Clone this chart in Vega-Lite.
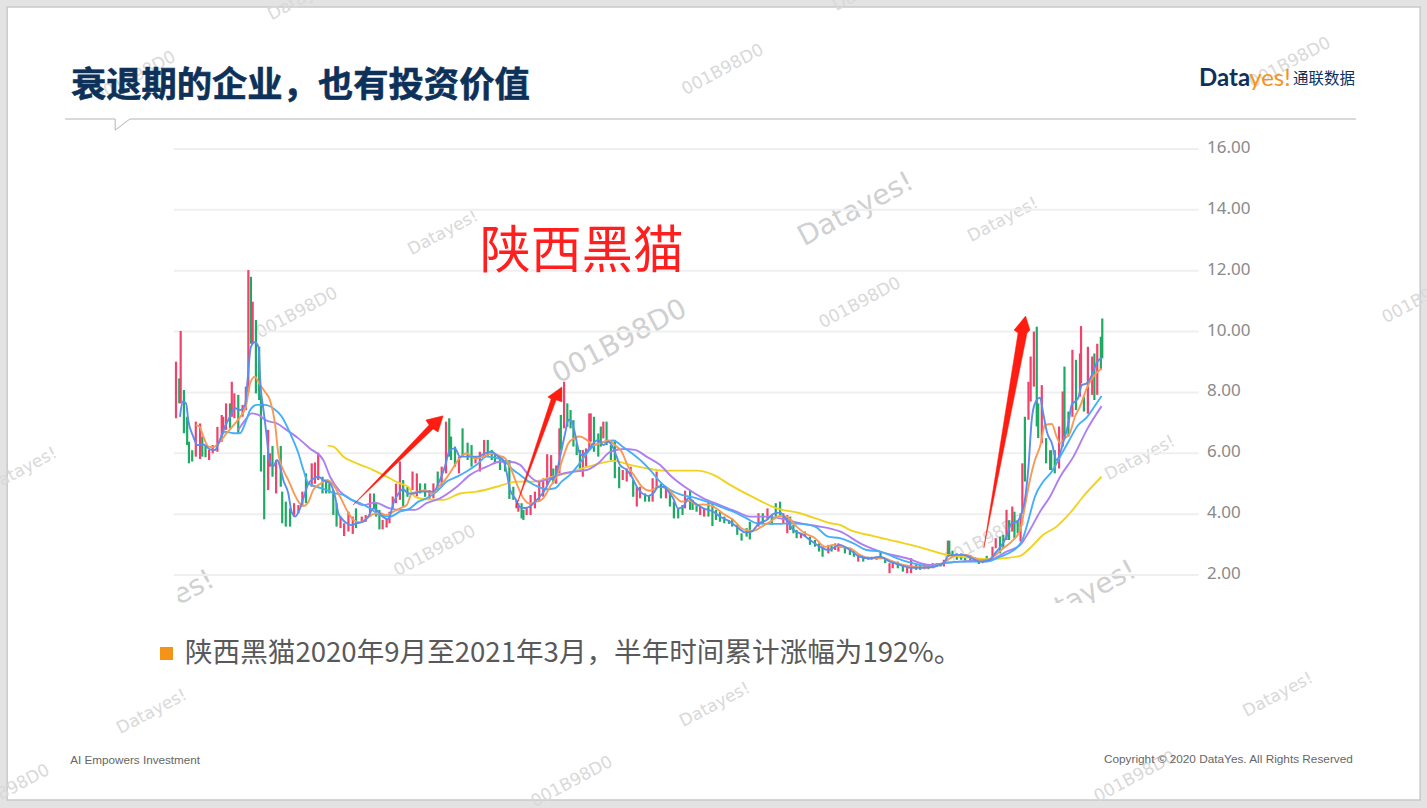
{"$schema":"https://vega.github.io/schema/vega-lite/v6.json","width":1427,"height":808,"autosize":"none","padding":0,"background":"#e3e3e3","config":{"view":{"stroke":null}},
"resolve":{"scale":{"color":"independent"}},
"datasets":{
"levels":[{"price":2},{"price":4},{"price":6},{"price":8},{"price":10},{"price":12},{"price":14},{"price":16}],
"candles":[
{"i":0,"lo":7.15,"hi":9.01,"dir":"up"},{"i":0.9,"lo":7.64,"hi":8.46,"dir":"down"},{"i":1.3,"lo":7.64,"hi":10.02,"dir":"up"},{"i":2.2,"lo":6.66,"hi":8.08,"dir":"down"},{"i":3.1,"lo":6.27,"hi":7.2,"dir":"down"},{"i":3.6,"lo":5.67,"hi":6.38,"dir":"down"},{"i":4.5,"lo":5.73,"hi":6.1,"dir":"down"},{"i":5.5,"lo":5.89,"hi":7.04,"dir":"up"},{"i":6.7,"lo":5.81,"hi":6.98,"dir":"up"},{"i":7.3,"lo":5.89,"hi":6.55,"dir":"down"},{"i":8.2,"lo":5.87,"hi":6.27,"dir":"down"},{"i":9.2,"lo":5.78,"hi":6.11,"dir":"up"},{"i":10.2,"lo":6.0,"hi":6.27,"dir":"up"},{"i":11.5,"lo":6.05,"hi":6.87,"dir":"up"},{"i":12.7,"lo":6.38,"hi":7.26,"dir":"up"},{"i":13.1,"lo":6.66,"hi":7.2,"dir":"up"},{"i":13.9,"lo":6.77,"hi":7.64,"dir":"up"},{"i":15,"lo":6.82,"hi":7.64,"dir":"down"},{"i":15.5,"lo":7.2,"hi":8.35,"dir":"up"},{"i":16.2,"lo":7.15,"hi":7.97,"dir":"up"},{"i":17.3,"lo":6.66,"hi":7.92,"dir":"down"},{"i":18.5,"lo":7.2,"hi":7.59,"dir":"up"},{"i":19.4,"lo":7.42,"hi":8.19,"dir":"up"},{"i":20.1,"lo":8.0,"hi":12.02,"dir":"up"},{"i":20.8,"lo":9.6,"hi":11.8,"dir":"down"},{"i":21.3,"lo":9.6,"hi":10.98,"dir":"up"},{"i":22.2,"lo":7.97,"hi":10.38,"dir":"down"},{"i":23.1,"lo":7.75,"hi":9.5,"dir":"down"},{"i":23.6,"lo":5.4,"hi":7.97,"dir":"down"},{"i":24.5,"lo":3.83,"hi":5.94,"dir":"down"},{"i":25.6,"lo":4.79,"hi":6.77,"dir":"up"},{"i":26.1,"lo":5.56,"hi":6.0,"dir":"up"},{"i":26.8,"lo":5.23,"hi":6.24,"dir":"down"},{"i":27.8,"lo":4.68,"hi":5.78,"dir":"up"},{"i":29.1,"lo":4.9,"hi":6.24,"dir":"down"},{"i":29.5,"lo":3.7,"hi":4.74,"dir":"down"},{"i":30.5,"lo":3.59,"hi":4.41,"dir":"down"},{"i":31.7,"lo":3.59,"hi":4.19,"dir":"down"},{"i":32.8,"lo":3.92,"hi":4.36,"dir":"up"},{"i":34,"lo":4.03,"hi":4.3,"dir":"up"},{"i":35.1,"lo":4.25,"hi":4.74,"dir":"up"},{"i":36.1,"lo":4.36,"hi":5.34,"dir":"down"},{"i":37.7,"lo":4.9,"hi":5.67,"dir":"up"},{"i":38.6,"lo":5.0,"hi":5.7,"dir":"up"},{"i":39.5,"lo":5.12,"hi":6.02,"dir":"up"},{"i":40.7,"lo":4.68,"hi":5.23,"dir":"down"},{"i":41.7,"lo":4.68,"hi":5.12,"dir":"down"},{"i":42.6,"lo":4.68,"hi":5.01,"dir":"down"},{"i":43.7,"lo":3.97,"hi":4.79,"dir":"down"},{"i":44.6,"lo":3.59,"hi":4.36,"dir":"down"},{"i":45.7,"lo":3.54,"hi":3.92,"dir":"up"},{"i":46.7,"lo":3.28,"hi":3.7,"dir":"up"},{"i":47.9,"lo":3.43,"hi":4.08,"dir":"up"},{"i":49.1,"lo":3.35,"hi":3.92,"dir":"up"},{"i":50,"lo":3.54,"hi":4.19,"dir":"down"},{"i":51.6,"lo":3.75,"hi":3.92,"dir":"up"},{"i":52.7,"lo":3.75,"hi":3.97,"dir":"up"},{"i":53.9,"lo":3.92,"hi":4.68,"dir":"up"},{"i":55,"lo":4.19,"hi":4.68,"dir":"down"},{"i":55.6,"lo":3.92,"hi":4.36,"dir":"down"},{"i":56.5,"lo":3.5,"hi":4.14,"dir":"down"},{"i":57.4,"lo":3.5,"hi":3.81,"dir":"up"},{"i":58.5,"lo":3.56,"hi":3.86,"dir":"up"},{"i":59.3,"lo":3.7,"hi":4.08,"dir":"up"},{"i":60.2,"lo":4.19,"hi":4.58,"dir":"up"},{"i":61.1,"lo":4.36,"hi":5.0,"dir":"up"},{"i":62.2,"lo":4.47,"hi":5.73,"dir":"up"},{"i":63.1,"lo":4.25,"hi":5.12,"dir":"down"},{"i":64.3,"lo":4.57,"hi":4.9,"dir":"down"},{"i":65.7,"lo":4.79,"hi":5.4,"dir":"up"},{"i":66.9,"lo":4.58,"hi":5.34,"dir":"up"},{"i":67.8,"lo":4.68,"hi":5.01,"dir":"down"},{"i":69.2,"lo":4.57,"hi":5.01,"dir":"down"},{"i":70.4,"lo":4.47,"hi":4.79,"dir":"up"},{"i":71.5,"lo":4.52,"hi":5.01,"dir":"up"},{"i":72.7,"lo":4.79,"hi":5.4,"dir":"down"},{"i":73.8,"lo":4.9,"hi":5.56,"dir":"up"},{"i":75,"lo":5.34,"hi":7.04,"dir":"up"},{"i":75.9,"lo":5.89,"hi":7.15,"dir":"down"},{"i":76.4,"lo":5.78,"hi":6.55,"dir":"down"},{"i":77.5,"lo":5.56,"hi":6.22,"dir":"down"},{"i":78.6,"lo":5.34,"hi":5.89,"dir":"up"},{"i":79.6,"lo":5.89,"hi":6.82,"dir":"down"},{"i":81,"lo":5.78,"hi":6.35,"dir":"down"},{"i":82.1,"lo":5.56,"hi":6.27,"dir":"down"},{"i":83.2,"lo":5.67,"hi":5.89,"dir":"up"},{"i":84.4,"lo":5.4,"hi":6.05,"dir":"up"},{"i":85.6,"lo":5.89,"hi":6.44,"dir":"up"},{"i":86.6,"lo":5.89,"hi":6.44,"dir":"down"},{"i":87.7,"lo":5.78,"hi":6.11,"dir":"down"},{"i":88.6,"lo":5.67,"hi":6.0,"dir":"down"},{"i":90,"lo":5.45,"hi":5.89,"dir":"down"},{"i":91.4,"lo":5.4,"hi":5.78,"dir":"down"},{"i":92.6,"lo":4.5,"hi":5.78,"dir":"down"},
{"i":93.7,"lo":4.47,"hi":4.9,"dir":"down"},{"i":94.6,"lo":4.19,"hi":4.47,"dir":"up"},{"i":95.1,"lo":4.08,"hi":4.36,"dir":"up"},{"i":96,"lo":3.86,"hi":4.36,"dir":"down"},{"i":96.5,"lo":3.81,"hi":4.14,"dir":"down"},{"i":97.4,"lo":3.97,"hi":4.2,"dir":"up"},{"i":98.5,"lo":3.97,"hi":4.63,"dir":"up"},{"i":99.7,"lo":4.19,"hi":4.74,"dir":"up"},{"i":100.9,"lo":4.41,"hi":5.07,"dir":"up"},{"i":102,"lo":4.57,"hi":5.18,"dir":"up"},{"i":103.1,"lo":4.96,"hi":5.97,"dir":"up"},{"i":104.2,"lo":5.12,"hi":5.94,"dir":"up"},{"i":104.8,"lo":5.0,"hi":5.5,"dir":"down"},{"i":105.6,"lo":5.0,"hi":5.6,"dir":"up"},{"i":106.5,"lo":5.34,"hi":6.82,"dir":"up"},{"i":106.9,"lo":6.11,"hi":7.26,"dir":"down"},{"i":107.8,"lo":6.82,"hi":8.35,"dir":"up"},{"i":108.7,"lo":6.87,"hi":7.64,"dir":"down"},{"i":109.6,"lo":6.82,"hi":7.42,"dir":"down"},{"i":110.4,"lo":6.22,"hi":7.09,"dir":"down"},{"i":111.3,"lo":5.94,"hi":6.33,"dir":"down"},{"i":112.2,"lo":5.4,"hi":6.11,"dir":"down"},{"i":113,"lo":5.23,"hi":6.11,"dir":"up"},{"i":113.9,"lo":5.56,"hi":6.16,"dir":"up"},{"i":114.8,"lo":6.11,"hi":7.31,"dir":"up"},{"i":115.2,"lo":6.38,"hi":7.31,"dir":"up"},{"i":116.1,"lo":6.05,"hi":7.2,"dir":"down"},{"i":117.3,"lo":5.89,"hi":6.65,"dir":"down"},{"i":118,"lo":6.22,"hi":6.88,"dir":"down"},{"i":118.7,"lo":6.49,"hi":7.04,"dir":"up"},{"i":119.6,"lo":6.27,"hi":7.04,"dir":"down"},{"i":120.8,"lo":5.78,"hi":6.27,"dir":"down"},{"i":121.9,"lo":5.18,"hi":6.44,"dir":"down"},{"i":123.1,"lo":4.85,"hi":5.56,"dir":"down"},{"i":124.1,"lo":5.12,"hi":5.45,"dir":"up"},{"i":125.2,"lo":5.07,"hi":5.5,"dir":"up"},{"i":126.3,"lo":5.23,"hi":5.56,"dir":"up"},{"i":127,"lo":4.57,"hi":5.12,"dir":"down"},{"i":128,"lo":4.25,"hi":4.9,"dir":"up"},{"i":128.9,"lo":4.52,"hi":4.9,"dir":"up"},{"i":130.3,"lo":4.41,"hi":4.68,"dir":"down"},{"i":131.4,"lo":4.41,"hi":4.63,"dir":"down"},{"i":132.4,"lo":4.41,"hi":5.18,"dir":"up"},{"i":133.5,"lo":4.85,"hi":5.4,"dir":"up"},{"i":134.7,"lo":4.52,"hi":5.0,"dir":"down"},{"i":136.1,"lo":4.52,"hi":4.9,"dir":"up"},{"i":137.2,"lo":4.25,"hi":4.8,"dir":"down"},{"i":138.3,"lo":3.86,"hi":4.41,"dir":"down"},{"i":139.5,"lo":3.86,"hi":4.19,"dir":"down"},{"i":140.7,"lo":3.97,"hi":4.3,"dir":"down"},{"i":141.4,"lo":4.19,"hi":4.77,"dir":"up"},{"i":142.8,"lo":4.14,"hi":4.8,"dir":"down"},{"i":143.5,"lo":4.14,"hi":4.47,"dir":"down"},{"i":144.6,"lo":4.08,"hi":4.3,"dir":"down"},{"i":145.6,"lo":3.97,"hi":4.25,"dir":"up"},{"i":146.7,"lo":3.92,"hi":4.19,"dir":"up"},{"i":147.9,"lo":3.92,"hi":4.41,"dir":"down"},{"i":149,"lo":3.61,"hi":4.36,"dir":"down"},{"i":150,"lo":3.81,"hi":4.14,"dir":"down"},{"i":151.1,"lo":3.75,"hi":4.08,"dir":"down"},{"i":152.3,"lo":3.7,"hi":3.92,"dir":"down"},{"i":153.6,"lo":3.68,"hi":3.81,"dir":"down"},{"i":154.5,"lo":3.59,"hi":3.86,"dir":"down"},{"i":155.9,"lo":3.32,"hi":3.65,"dir":"down"},{"i":157.1,"lo":3.13,"hi":3.37,"dir":"down"},{"i":158.5,"lo":3.26,"hi":3.54,"dir":"down"},{"i":159.4,"lo":3.17,"hi":3.75,"dir":"down"},{"i":161.8,"lo":3.59,"hi":4.03,"dir":"up"},{"i":163,"lo":3.7,"hi":4.03,"dir":"down"},{"i":164.3,"lo":3.81,"hi":4.19,"dir":"up"},{"i":165.5,"lo":3.65,"hi":3.97,"dir":"down"},{"i":166.6,"lo":3.92,"hi":4.36,"dir":"down"},{"i":167.8,"lo":3.97,"hi":4.41,"dir":"down"},{"i":168.7,"lo":3.7,"hi":4.03,"dir":"up"},{"i":169.8,"lo":3.37,"hi":3.97,"dir":"up"},{"i":170.6,"lo":3.48,"hi":3.92,"dir":"down"},{"i":171.5,"lo":3.37,"hi":3.65,"dir":"down"},{"i":172.4,"lo":3.21,"hi":3.48,"dir":"down"},{"i":173.6,"lo":3.21,"hi":3.37,"dir":"up"},{"i":174.7,"lo":3.26,"hi":3.43,"dir":"up"},{"i":176.1,"lo":2.99,"hi":3.26,"dir":"down"},{"i":177.5,"lo":2.93,"hi":3.15,"dir":"down"},{"i":178.6,"lo":2.77,"hi":3.04,"dir":"down"},{"i":179.6,"lo":2.6,"hi":2.93,"dir":"down"},{"i":181.2,"lo":2.71,"hi":2.99,"dir":"up"},{"i":182.1,"lo":2.77,"hi":2.99,"dir":"down"},{"i":183.1,"lo":2.82,"hi":3.04,"dir":"up"},{"i":184,"lo":2.77,"hi":3.04,"dir":"up"},
{"i":185.8,"lo":2.71,"hi":2.93,"dir":"down"},{"i":187.2,"lo":2.66,"hi":2.88,"dir":"down"},{"i":188.3,"lo":2.6,"hi":2.82,"dir":"down"},{"i":189.5,"lo":2.44,"hi":2.66,"dir":"up"},{"i":190.9,"lo":2.44,"hi":2.6,"dir":"down"},{"i":192.3,"lo":2.5,"hi":2.6,"dir":"down"},{"i":193.2,"lo":2.5,"hi":2.6,"dir":"up"},{"i":194.6,"lo":2.5,"hi":2.6,"dir":"up"},{"i":195.7,"lo":2.55,"hi":2.77,"dir":"down"},{"i":197,"lo":2.39,"hi":2.55,"dir":"down"},{"i":198.2,"lo":2.06,"hi":2.39,"dir":"up"},{"i":199.1,"lo":2.22,"hi":2.44,"dir":"up"},{"i":200.5,"lo":2.22,"hi":2.44,"dir":"down"},{"i":201.9,"lo":2.11,"hi":2.33,"dir":"down"},{"i":203.1,"lo":2.06,"hi":2.28,"dir":"up"},{"i":204.2,"lo":2.06,"hi":2.55,"dir":"up"},{"i":205.6,"lo":2.17,"hi":2.33,"dir":"down"},{"i":206.7,"lo":2.17,"hi":2.33,"dir":"down"},{"i":207.9,"lo":2.19,"hi":2.33,"dir":"up"},{"i":209,"lo":2.19,"hi":2.28,"dir":"down"},{"i":210.2,"lo":2.22,"hi":2.39,"dir":"up"},{"i":211.3,"lo":2.28,"hi":2.39,"dir":"up"},{"i":212.4,"lo":2.28,"hi":2.39,"dir":"down"},{"i":213.3,"lo":2.28,"hi":2.5,"dir":"up"},{"i":214.4,"lo":2.6,"hi":3.13,"dir":"up"},{"i":214.8,"lo":2.66,"hi":3.13,"dir":"down"},{"i":215.7,"lo":2.6,"hi":2.8,"dir":"down"},{"i":216.9,"lo":2.5,"hi":2.71,"dir":"down"},{"i":218.1,"lo":2.5,"hi":2.71,"dir":"down"},{"i":219.2,"lo":2.47,"hi":2.69,"dir":"down"},{"i":220.6,"lo":2.44,"hi":2.66,"dir":"up"},{"i":221.7,"lo":2.44,"hi":2.58,"dir":"down"},{"i":223,"lo":2.36,"hi":2.52,"dir":"down"},{"i":224.1,"lo":2.39,"hi":2.55,"dir":"up"},{"i":225.2,"lo":2.44,"hi":2.63,"dir":"down"},{"i":226.8,"lo":2.6,"hi":2.93,"dir":"up"},{"i":227.7,"lo":2.88,"hi":3.21,"dir":"up"},{"i":228.9,"lo":2.71,"hi":3.26,"dir":"down"},{"i":229.8,"lo":2.88,"hi":3.32,"dir":"down"},{"i":230.7,"lo":3.15,"hi":4.14,"dir":"up"},{"i":231.4,"lo":3.15,"hi":3.8,"dir":"down"},{"i":232.3,"lo":3.43,"hi":4.25,"dir":"up"},{"i":232.9,"lo":3.21,"hi":4.08,"dir":"down"},{"i":233.8,"lo":3.37,"hi":3.8,"dir":"down"},{"i":234.6,"lo":3.1,"hi":4.03,"dir":"up"},{"i":235.1,"lo":4.03,"hi":5.67,"dir":"up"},{"i":235.8,"lo":5.07,"hi":7.2,"dir":"down"},{"i":236.8,"lo":7.1,"hi":8.35,"dir":"up"},{"i":237.4,"lo":7.7,"hi":9.18,"dir":"up"},{"i":238.3,"lo":8.19,"hi":10.0,"dir":"up"},{"i":239.1,"lo":6.88,"hi":10.16,"dir":"down"},{"i":239.5,"lo":6.5,"hi":7.64,"dir":"down"},{"i":240.5,"lo":6.33,"hi":8.24,"dir":"up"},{"i":241.7,"lo":5.67,"hi":6.5,"dir":"down"},{"i":242.8,"lo":5.45,"hi":6.1,"dir":"up"},{"i":243.1,"lo":5.45,"hi":6.1,"dir":"down"},{"i":244.1,"lo":5.34,"hi":6.1,"dir":"down"},{"i":245.3,"lo":5.5,"hi":6.88,"dir":"up"},{"i":246.3,"lo":6.22,"hi":8.03,"dir":"up"},{"i":246.8,"lo":6.55,"hi":8.85,"dir":"down"},{"i":247.9,"lo":6.55,"hi":7.37,"dir":"down"},{"i":249,"lo":7.2,"hi":9.4,"dir":"up"},{"i":250,"lo":7.42,"hi":9.07,"dir":"down"},{"i":251.1,"lo":7.86,"hi":9.28,"dir":"up"},{"i":251.4,"lo":8.3,"hi":10.18,"dir":"up"},{"i":252.2,"lo":7.37,"hi":7.86,"dir":"down"},{"i":253.3,"lo":7.3,"hi":9.5,"dir":"up"},{"i":254.5,"lo":7.92,"hi":9.18,"dir":"up"},{"i":255.1,"lo":7.75,"hi":9.28,"dir":"down"},{"i":255.9,"lo":7.92,"hi":9.6,"dir":"up"},{"i":256.9,"lo":8.74,"hi":9.83,"dir":"down"},{"i":257.3,"lo":9.12,"hi":10.43,"dir":"down"}
],
"ma":[
{"s":"MA120","i":42.1,"v":6.25},{"s":"MA120","i":43.7,"v":6.22},{"s":"MA120","i":46.5,"v":5.89},{"s":"MA120","i":50.2,"v":5.67},{"s":"MA120","i":54.8,"v":5.45},{"s":"MA120","i":58.5,"v":5.23},{"s":"MA120","i":62.2,"v":5.01},{"s":"MA120","i":64.5,"v":4.9},{"s":"MA120","i":66.4,"v":4.57},{"s":"MA120","i":69.6,"v":4.49},{"s":"MA120","i":74.3,"v":4.47},{"s":"MA120","i":78.9,"v":4.68},{"s":"MA120","i":83.5,"v":4.74},{"s":"MA120","i":89.1,"v":4.9},{"s":"MA120","i":94.6,"v":5.07},{"s":"MA120","i":99.3,"v":5.07},{"s":"MA120","i":103.9,"v":5.21},{"s":"MA120","i":108.5,"v":5.34},{"s":"MA120","i":113.1,"v":5.51},{"s":"MA120","i":117.8,"v":5.67},{"s":"MA120","i":121.5,"v":5.75},{"s":"MA120","i":126.1,"v":5.62},{"s":"MA120","i":130.7,"v":5.51},{"s":"MA120","i":135.4,"v":5.43},{"s":"MA120","i":144.6,"v":5.43},{"s":"MA120","i":149.3,"v":5.29},{"s":"MA120","i":153.9,"v":4.96},{"s":"MA120","i":160.4,"v":4.55},{"s":"MA120","i":166.9,"v":4.19},{"s":"MA120","i":173.3,"v":4.03},{"s":"MA120","i":178.9,"v":3.81},{"s":"MA120","i":181.7,"v":3.7},{"s":"MA120","i":184.4,"v":3.65},{"s":"MA120","i":187.2,"v":3.48},{"s":"MA120","i":193.7,"v":3.28},{"s":"MA120","i":200.2,"v":3.1},{"s":"MA120","i":206.7,"v":2.91},{"s":"MA120","i":214.1,"v":2.66},{"s":"MA120","i":218.7,"v":2.6},{"s":"MA120","i":225.2,"v":2.52},{"s":"MA120","i":229.8,"v":2.55},{"s":"MA120","i":234.5,"v":2.63},{"s":"MA120","i":237.2,"v":2.88},{"s":"MA120","i":240.9,"v":3.32},{"s":"MA120","i":244.6,"v":3.59},{"s":"MA120","i":248.3,"v":4.03},{"s":"MA120","i":252,"v":4.58},{"s":"MA120","i":257.1,"v":5.23},
{"s":"MA30","i":17.3,"v":6.77},{"s":"MA30","i":19.2,"v":7.09},{"s":"MA30","i":21,"v":7.31},{"s":"MA30","i":22.9,"v":7.26},{"s":"MA30","i":25.2,"v":7.07},{"s":"MA30","i":28,"v":6.98},{"s":"MA30","i":30.7,"v":6.77},{"s":"MA30","i":34,"v":6.49},{"s":"MA30","i":37.2,"v":6.16},{"s":"MA30","i":40.9,"v":5.78},{"s":"MA30","i":42.8,"v":5.23},{"s":"MA30","i":45.6,"v":4.74},{"s":"MA30","i":48.8,"v":4.47},{"s":"MA30","i":52,"v":4.3},{"s":"MA30","i":55.3,"v":4.38},{"s":"MA30","i":59.4,"v":4.19},{"s":"MA30","i":63.1,"v":4.14},{"s":"MA30","i":66.4,"v":4.14},{"s":"MA30","i":69.6,"v":4.36},{"s":"MA30","i":73.3,"v":4.52},{"s":"MA30","i":78,"v":4.9},{"s":"MA30","i":81.7,"v":5.29},{"s":"MA30","i":86.3,"v":5.56},{"s":"MA30","i":90,"v":5.72},{"s":"MA30","i":92.8,"v":5.72},{"s":"MA30","i":95.6,"v":5.62},{"s":"MA30","i":97.9,"v":5.29},{"s":"MA30","i":100.6,"v":5.07},{"s":"MA30","i":103.9,"v":5.18},{"s":"MA30","i":107.6,"v":5.34},{"s":"MA30","i":110.8,"v":5.4},{"s":"MA30","i":114.1,"v":5.45},{"s":"MA30","i":117.3,"v":5.67},{"s":"MA30","i":120.6,"v":6.05},{"s":"MA30","i":124.3,"v":6.14},{"s":"MA30","i":127.5,"v":6.11},{"s":"MA30","i":130.7,"v":5.89},{"s":"MA30","i":134.4,"v":5.62},{"s":"MA30","i":137.7,"v":5.23},{"s":"MA30","i":141.9,"v":4.85},{"s":"MA30","i":146.5,"v":4.52},{"s":"MA30","i":151.1,"v":4.3},{"s":"MA30","i":155.7,"v":4.08},{"s":"MA30","i":159.4,"v":3.92},{"s":"MA30","i":164.1,"v":3.92},{"s":"MA30","i":168.7,"v":3.84},{"s":"MA30","i":173.3,"v":3.7},{"s":"MA30","i":178,"v":3.61},{"s":"MA30","i":184.4,"v":3.43},{"s":"MA30","i":190.9,"v":2.99},{"s":"MA30","i":195.6,"v":2.77},{"s":"MA30","i":203,"v":2.55},{"s":"MA30","i":209.4,"v":2.33},{"s":"MA30","i":213.6,"v":2.39},{"s":"MA30","i":217.8,"v":2.44},{"s":"MA30","i":221.5,"v":2.46},{"s":"MA30","i":226.1,"v":2.5},{"s":"MA30","i":230.7,"v":2.77},{"s":"MA30","i":234.5,"v":2.99},{"s":"MA30","i":237.2,"v":3.48},{"s":"MA30","i":240,"v":4.08},{"s":"MA30","i":242.8,"v":4.58},{"s":"MA30","i":245.6,"v":5.23},{"s":"MA30","i":249.3,"v":5.89},{"s":"MA30","i":253,"v":6.77},{"s":"MA30","i":257.1,"v":7.55},
{"s":"MA20","i":12.2,"v":6.44},{"s":"MA20","i":13.6,"v":6.71},{"s":"MA20","i":15.9,"v":6.66},{"s":"MA20","i":17.8,"v":6.66},{"s":"MA20","i":19.2,"v":6.98},{"s":"MA20","i":20.6,"v":7.42},{"s":"MA20","i":22.4,"v":7.59},{"s":"MA20","i":24.7,"v":7.59},{"s":"MA20","i":27,"v":7.48},{"s":"MA20","i":29.4,"v":7.2},{"s":"MA20","i":31.7,"v":6.66},{"s":"MA20","i":34,"v":6.0},{"s":"MA20","i":35.4,"v":5.45},{"s":"MA20","i":36.8,"v":5.01},{"s":"MA20","i":39.1,"v":4.9},{"s":"MA20","i":41.9,"v":4.79},{"s":"MA20","i":44.2,"v":4.68},{"s":"MA20","i":46.5,"v":4.63},{"s":"MA20","i":48.8,"v":4.47},{"s":"MA20","i":51.1,"v":4.36},{"s":"MA20","i":53.9,"v":4.19},{"s":"MA20","i":56.7,"v":3.97},{"s":"MA20","i":59.4,"v":3.92},{"s":"MA20","i":62.2,"v":4.08},{"s":"MA20","i":65,"v":4.19},{"s":"MA20","i":67.3,"v":4.41},{"s":"MA20","i":69.6,"v":4.52},{"s":"MA20","i":72.4,"v":4.74},{"s":"MA20","i":75.2,"v":5.07},{"s":"MA20","i":78,"v":5.23},{"s":"MA20","i":80.7,"v":5.4},{"s":"MA20","i":83.5,"v":5.62},{"s":"MA20","i":86.3,"v":5.89},{"s":"MA20","i":89.5,"v":5.83},{"s":"MA20","i":91.9,"v":5.67},{"s":"MA20","i":93.7,"v":5.45},{"s":"MA20","i":95.6,"v":5.29},{"s":"MA20","i":97.9,"v":5.07},{"s":"MA20","i":100.6,"v":4.9},{"s":"MA20","i":103,"v":4.82},{"s":"MA20","i":105.3,"v":4.85},{"s":"MA20","i":107.1,"v":5.07},{"s":"MA20","i":109.4,"v":5.29},{"s":"MA20","i":111.8,"v":5.62},{"s":"MA20","i":114.1,"v":6.0},{"s":"MA20","i":116.4,"v":6.27},{"s":"MA20","i":119.2,"v":6.38},{"s":"MA20","i":121.5,"v":6.42},{"s":"MA20","i":123.8,"v":6.24},{"s":"MA20","i":126.6,"v":6.0},{"s":"MA20","i":129.4,"v":5.73},{"s":"MA20","i":132.1,"v":5.4},{"s":"MA20","i":134.4,"v":5.07},{"s":"MA20","i":137.2,"v":4.8},{"s":"MA20","i":140.5,"v":4.63},{"s":"MA20","i":143.7,"v":4.55},{"s":"MA20","i":147.4,"v":4.41},{"s":"MA20","i":151.1,"v":4.25},{"s":"MA20","i":154.8,"v":4.08},{"s":"MA20","i":158.5,"v":3.86},{"s":"MA20","i":161.3,"v":3.7},{"s":"MA20","i":164.1,"v":3.68},{"s":"MA20","i":167.3,"v":3.68},{"s":"MA20","i":170.6,"v":3.7},{"s":"MA20","i":173.8,"v":3.68},{"s":"MA20","i":177.5,"v":3.59},{"s":"MA20","i":181.2,"v":3.26},{"s":"MA20","i":184.4,"v":3.21},{"s":"MA20","i":188.2,"v":3.04},{"s":"MA20","i":191.9,"v":2.82},{"s":"MA20","i":195.6,"v":2.77},{"s":"MA20","i":199.3,"v":2.6},{"s":"MA20","i":203,"v":2.44},{"s":"MA20","i":206.7,"v":2.33},{"s":"MA20","i":209.4,"v":2.28},{"s":"MA20","i":213.6,"v":2.39},{"s":"MA20","i":217.8,"v":2.44},{"s":"MA20","i":221.5,"v":2.44},{"s":"MA20","i":225.2,"v":2.44},{"s":"MA20","i":228.9,"v":2.6},{"s":"MA20","i":232.1,"v":2.77},{"s":"MA20","i":234.9,"v":3.1},{"s":"MA20","i":236.8,"v":3.81},{"s":"MA20","i":238.6,"v":4.58},{"s":"MA20","i":240.9,"v":5.07},{"s":"MA20","i":243.3,"v":5.4},{"s":"MA20","i":245.6,"v":5.89},{"s":"MA20","i":247.9,"v":6.38},{"s":"MA20","i":250.6,"v":6.93},{"s":"MA20","i":253,"v":7.18},{"s":"MA20","i":254.8,"v":7.48},{"s":"MA20","i":257.1,"v":7.88},
{"s":"MA10","i":5.5,"v":6.93},{"s":"MA10","i":6.5,"v":6.88},{"s":"MA10","i":7.6,"v":6.55},{"s":"MA10","i":9,"v":6.22},{"s":"MA10","i":10.4,"v":6.2},{"s":"MA10","i":12.2,"v":6.38},{"s":"MA10","i":14.1,"v":6.66},{"s":"MA10","i":16.4,"v":6.98},{"s":"MA10","i":18.2,"v":7.26},{"s":"MA10","i":19.4,"v":7.53},{"s":"MA10","i":20.6,"v":8.3},{"s":"MA10","i":21.9,"v":8.52},{"s":"MA10","i":23.1,"v":8.3},{"s":"MA10","i":24.7,"v":8.02},{"s":"MA10","i":26.1,"v":7.75},{"s":"MA10","i":27.5,"v":6.98},{"s":"MA10","i":28.4,"v":6.0},{"s":"MA10","i":29.8,"v":5.45},{"s":"MA10","i":31.2,"v":5.12},{"s":"MA10","i":32.8,"v":4.68},{"s":"MA10","i":34,"v":4.41},{"s":"MA10","i":35.4,"v":4.27},{"s":"MA10","i":36.8,"v":4.41},{"s":"MA10","i":38.1,"v":4.79},{"s":"MA10","i":40,"v":4.99},{"s":"MA10","i":41.9,"v":5.12},{"s":"MA10","i":43.7,"v":4.96},{"s":"MA10","i":45.6,"v":4.57},{"s":"MA10","i":47.4,"v":4.14},{"s":"MA10","i":49.3,"v":3.81},{"s":"MA10","i":51.1,"v":3.73},{"s":"MA10","i":53,"v":3.86},{"s":"MA10","i":54.8,"v":4.0},{"s":"MA10","i":56.7,"v":4.03},{"s":"MA10","i":58.5,"v":3.97},{"s":"MA10","i":60.4,"v":4.08},{"s":"MA10","i":62.2,"v":4.19},{"s":"MA10","i":64.1,"v":4.3},{"s":"MA10","i":65.5,"v":4.68},{"s":"MA10","i":67.3,"v":4.74},{"s":"MA10","i":69.2,"v":4.79},{"s":"MA10","i":71,"v":4.68},{"s":"MA10","i":72.9,"v":4.9},{"s":"MA10","i":74.7,"v":5.12},{"s":"MA10","i":76.6,"v":5.45},{"s":"MA10","i":78.4,"v":5.78},{"s":"MA10","i":80.7,"v":6.0},{"s":"MA10","i":83.1,"v":5.83},{"s":"MA10","i":85.4,"v":5.89},{"s":"MA10","i":87.7,"v":6.0},{"s":"MA10","i":90,"v":5.91},{"s":"MA10","i":91.4,"v":5.84},{"s":"MA10","i":92.8,"v":5.56},{"s":"MA10","i":94.6,"v":5.01},{"s":"MA10","i":96.5,"v":4.52},{"s":"MA10","i":98.3,"v":4.34},{"s":"MA10","i":100.2,"v":4.41},{"s":"MA10","i":102,"v":4.52},{"s":"MA10","i":103.9,"v":4.9},{"s":"MA10","i":105.7,"v":5.23},{"s":"MA10","i":107.6,"v":5.89},{"s":"MA10","i":109,"v":6.33},{"s":"MA10","i":110.8,"v":6.51},{"s":"MA10","i":112.2,"v":6.55},{"s":"MA10","i":114.1,"v":6.44},{"s":"MA10","i":115.9,"v":6.27},{"s":"MA10","i":117.8,"v":6.33},{"s":"MA10","i":120.1,"v":6.42},{"s":"MA10","i":121.9,"v":6.27},{"s":"MA10","i":123.8,"v":6.05},{"s":"MA10","i":125.6,"v":5.56},{"s":"MA10","i":127.5,"v":5.23},{"s":"MA10","i":129.4,"v":4.9},{"s":"MA10","i":131.7,"v":4.77},{"s":"MA10","i":134,"v":4.9},{"s":"MA10","i":136.3,"v":4.85},{"s":"MA10","i":138.6,"v":4.58},{"s":"MA10","i":140.5,"v":4.41},{"s":"MA10","i":142.8,"v":4.44},{"s":"MA10","i":144.6,"v":4.3},{"s":"MA10","i":146.5,"v":4.32},{"s":"MA10","i":149.3,"v":4.25},{"s":"MA10","i":152,"v":4.01},{"s":"MA10","i":154.8,"v":3.81},{"s":"MA10","i":157.6,"v":3.5},{"s":"MA10","i":160.4,"v":3.45},{"s":"MA10","i":162.7,"v":3.59},{"s":"MA10","i":165,"v":3.75},{"s":"MA10","i":167.8,"v":3.94},{"s":"MA10","i":169.6,"v":3.92},{"s":"MA10","i":172.4,"v":3.59},{"s":"MA10","i":174.7,"v":3.37},{"s":"MA10","i":177.5,"v":3.21},{"s":"MA10","i":180.3,"v":2.93},{"s":"MA10","i":182.6,"v":2.99},{"s":"MA10","i":184.4,"v":2.93},{"s":"MA10","i":187.2,"v":2.88},{"s":"MA10","i":190,"v":2.66},{"s":"MA10","i":192.8,"v":2.55},{"s":"MA10","i":196.5,"v":2.55},{"s":"MA10","i":199.3,"v":2.44},{"s":"MA10","i":202,"v":2.33},{"s":"MA10","i":204.8,"v":2.28},{"s":"MA10","i":207.6,"v":2.24},{"s":"MA10","i":210.4,"v":2.28},{"s":"MA10","i":213.1,"v":2.39},{"s":"MA10","i":215,"v":2.55},{"s":"MA10","i":217.3,"v":2.66},{"s":"MA10","i":219.6,"v":2.66},{"s":"MA10","i":221.9,"v":2.55},{"s":"MA10","i":224.3,"v":2.47},{"s":"MA10","i":227,"v":2.6},{"s":"MA10","i":229.8,"v":2.88},{"s":"MA10","i":232.1,"v":3.1},{"s":"MA10","i":234.5,"v":3.48},{"s":"MA10","i":235.8,"v":4.25},{"s":"MA10","i":237.2,"v":5.12},{"s":"MA10","i":238.6,"v":5.78},{"s":"MA10","i":240,"v":6.22},{"s":"MA10","i":241.4,"v":6.93},{"s":"MA10","i":243.3,"v":6.96},{"s":"MA10","i":244.6,"v":6.55},{"s":"MA10","i":245.6,"v":6.33},{"s":"MA10","i":246.9,"v":6.49},{"s":"MA10","i":248.3,"v":6.66},{"s":"MA10","i":249.7,"v":7.2},{"s":"MA10","i":251.1,"v":7.53},{"s":"MA10","i":253,"v":8.14},{"s":"MA10","i":254.8,"v":8.52},{"s":"MA10","i":257.1,"v":8.79},
{"s":"MA5","i":1.1,"v":7.2},{"s":"MA5","i":1.9,"v":7.7},{"s":"MA5","i":2.8,"v":7.64},{"s":"MA5","i":3.4,"v":7.09},{"s":"MA5","i":4.8,"v":6.55},{"s":"MA5","i":5.9,"v":6.27},{"s":"MA5","i":7.6,"v":6.29},{"s":"MA5","i":9.4,"v":6.13},{"s":"MA5","i":10.8,"v":6.11},{"s":"MA5","i":12,"v":6.38},{"s":"MA5","i":13.6,"v":6.88},{"s":"MA5","i":15,"v":7.2},{"s":"MA5","i":16.4,"v":7.48},{"s":"MA5","i":17.8,"v":7.42},{"s":"MA5","i":19.2,"v":7.59},{"s":"MA5","i":19.8,"v":8.3},{"s":"MA5","i":20.8,"v":9.5},{"s":"MA5","i":21.9,"v":9.65},{"s":"MA5","i":22.9,"v":9.5},{"s":"MA5","i":23.5,"v":8.19},{"s":"MA5","i":24.3,"v":7.42},{"s":"MA5","i":25.2,"v":6.55},{"s":"MA5","i":25.9,"v":5.78},{"s":"MA5","i":27,"v":5.58},{"s":"MA5","i":28.1,"v":5.78},{"s":"MA5","i":28.9,"v":5.56},{"s":"MA5","i":29.8,"v":5.12},{"s":"MA5","i":31.2,"v":4.68},{"s":"MA5","i":32.1,"v":4.08},{"s":"MA5","i":33.1,"v":3.92},{"s":"MA5","i":34.3,"v":4.14},{"s":"MA5","i":35.8,"v":4.68},{"s":"MA5","i":36.8,"v":5.01},{"s":"MA5","i":38.1,"v":5.16},{"s":"MA5","i":39.5,"v":5.23},{"s":"MA5","i":40.9,"v":5.12},{"s":"MA5","i":42.8,"v":5.01},{"s":"MA5","i":44.2,"v":4.57},{"s":"MA5","i":45.1,"v":4.03},{"s":"MA5","i":46,"v":3.86},{"s":"MA5","i":47.4,"v":3.7},{"s":"MA5","i":48.8,"v":3.64},{"s":"MA5","i":50.2,"v":3.7},{"s":"MA5","i":52,"v":3.75},{"s":"MA5","i":53.4,"v":3.92},{"s":"MA5","i":54.8,"v":4.19},{"s":"MA5","i":56.2,"v":4.08},{"s":"MA5","i":57.6,"v":3.9},{"s":"MA5","i":59,"v":3.83},{"s":"MA5","i":60.4,"v":4.36},{"s":"MA5","i":61.8,"v":4.68},{"s":"MA5","i":63.1,"v":4.82},{"s":"MA5","i":64.5,"v":4.68},{"s":"MA5","i":65.9,"v":4.68},{"s":"MA5","i":67.8,"v":4.74},{"s":"MA5","i":69.6,"v":4.74},{"s":"MA5","i":71.5,"v":4.74},{"s":"MA5","i":73.3,"v":5.12},{"s":"MA5","i":74.7,"v":5.56},{"s":"MA5","i":76.1,"v":6.11},{"s":"MA5","i":77.5,"v":6.16},{"s":"MA5","i":78.9,"v":5.89},{"s":"MA5","i":80.3,"v":5.89},{"s":"MA5","i":82.1,"v":5.89},{"s":"MA5","i":84,"v":5.89},{"s":"MA5","i":85.8,"v":6.0},{"s":"MA5","i":87.7,"v":6.05},{"s":"MA5","i":89.5,"v":5.89},{"s":"MA5","i":90.9,"v":5.78},{"s":"MA5","i":91.9,"v":5.34},{"s":"MA5","i":92.8,"v":4.8},{"s":"MA5","i":94.2,"v":4.52},{"s":"MA5","i":95.6,"v":4.23},{"s":"MA5","i":96.9,"v":4.2},{"s":"MA5","i":98.3,"v":4.25},{"s":"MA5","i":99.7,"v":4.41},{"s":"MA5","i":101.1,"v":4.58},{"s":"MA5","i":102.5,"v":4.8},{"s":"MA5","i":103.9,"v":5.12},{"s":"MA5","i":105.3,"v":5.23},{"s":"MA5","i":106.7,"v":5.89},{"s":"MA5","i":108.1,"v":6.66},{"s":"MA5","i":109,"v":7.1},{"s":"MA5","i":109.9,"v":7.04},{"s":"MA5","i":110.8,"v":6.66},{"s":"MA5","i":111.8,"v":6.11},{"s":"MA5","i":112.7,"v":5.94},{"s":"MA5","i":114.1,"v":6.05},{"s":"MA5","i":115.5,"v":6.27},{"s":"MA5","i":117.3,"v":6.44},{"s":"MA5","i":118.7,"v":6.27},{"s":"MA5","i":120.1,"v":6.38},{"s":"MA5","i":121.5,"v":6.16},{"s":"MA5","i":122.4,"v":5.89},{"s":"MA5","i":123.3,"v":5.62},{"s":"MA5","i":125.2,"v":5.45},{"s":"MA5","i":126.6,"v":5.23},{"s":"MA5","i":128,"v":4.9},{"s":"MA5","i":129.4,"v":4.69},{"s":"MA5","i":131.2,"v":4.6},{"s":"MA5","i":132.6,"v":4.69},{"s":"MA5","i":134,"v":4.9},{"s":"MA5","i":135.4,"v":4.9},{"s":"MA5","i":136.8,"v":4.74},{"s":"MA5","i":138.1,"v":4.52},{"s":"MA5","i":139.5,"v":4.19},{"s":"MA5","i":140.9,"v":4.25},{"s":"MA5","i":142.3,"v":4.52},{"s":"MA5","i":144.2,"v":4.36},{"s":"MA5","i":146.5,"v":4.19},{"s":"MA5","i":149.3,"v":4.08},{"s":"MA5","i":151.1,"v":3.92},{"s":"MA5","i":153.9,"v":3.75},{"s":"MA5","i":156.2,"v":3.54},{"s":"MA5","i":158.1,"v":3.4},{"s":"MA5","i":159.9,"v":3.43},{"s":"MA5","i":161.8,"v":3.68},{"s":"MA5","i":164.1,"v":3.81},{"s":"MA5","i":165.9,"v":4.01},{"s":"MA5","i":167.8,"v":4.05},{"s":"MA5","i":169.6,"v":3.81},{"s":"MA5","i":171.5,"v":3.48},{"s":"MA5","i":173.8,"v":3.35},{"s":"MA5","i":176.1,"v":3.15},{"s":"MA5","i":178.9,"v":2.93},{"s":"MA5","i":181.2,"v":2.82},{"s":"MA5","i":184.4,"v":2.99},{"s":"MA5","i":187.2,"v":2.82},{"s":"MA5","i":190,"v":2.6},{"s":"MA5","i":192.8,"v":2.55},{"s":"MA5","i":195.6,"v":2.6},{"s":"MA5","i":198.3,"v":2.44},{"s":"MA5","i":201.1,"v":2.33},{"s":"MA5","i":203.9,"v":2.24},{"s":"MA5","i":206.7,"v":2.24},{"s":"MA5","i":209.4,"v":2.25},{"s":"MA5","i":212.2,"v":2.33},{"s":"MA5","i":213.6,"v":2.44},{"s":"MA5","i":214.5,"v":2.63},{"s":"MA5","i":216.4,"v":2.66},{"s":"MA5","i":218.7,"v":2.66},{"s":"MA5","i":221,"v":2.55},{"s":"MA5","i":223.3,"v":2.44},{"s":"MA5","i":226.1,"v":2.5},{"s":"MA5","i":227.5,"v":2.71},{"s":"MA5","i":229.4,"v":2.99},{"s":"MA5","i":230.7,"v":3.26},{"s":"MA5","i":232.1,"v":3.7},{"s":"MA5","i":233.5,"v":3.75},{"s":"MA5","i":234.9,"v":4.03},{"s":"MA5","i":235.8,"v":4.47},{"s":"MA5","i":236.8,"v":5.56},{"s":"MA5","i":237.7,"v":7.1},{"s":"MA5","i":238.6,"v":7.64},{"s":"MA5","i":240,"v":7.83},{"s":"MA5","i":240.9,"v":7.31},{"s":"MA5","i":241.9,"v":6.71},{"s":"MA5","i":243.3,"v":6.33},{"s":"MA5","i":244.6,"v":5.78},{"s":"MA5","i":245.6,"v":6.0},{"s":"MA5","i":246.5,"v":6.38},{"s":"MA5","i":247.9,"v":6.99},{"s":"MA5","i":248.8,"v":7.59},{"s":"MA5","i":250.6,"v":7.81},{"s":"MA5","i":251.6,"v":8.24},{"s":"MA5","i":253,"v":8.3},{"s":"MA5","i":254.4,"v":8.57},{"s":"MA5","i":255.7,"v":8.96},{"s":"MA5","i":257.1,"v":9.15}
],
"arrows":[
{"a":"A","o":0,"i":49.2,"v":4.3},{"a":"A","o":1,"i":70.3,"v":6.93},{"a":"A","o":2,"i":69.4,"v":7.09},{"a":"A","o":3,"i":74.2,"v":7.23},{"a":"A","o":4,"i":72.8,"v":6.7},{"a":"A","o":5,"i":71.4,"v":6.8},{"a":"A","o":6,"i":49.2,"v":4.3},
{"a":"B","o":0,"i":94.4,"v":4.23},{"a":"B","o":1,"i":104.2,"v":7.78},{"a":"B","o":2,"i":103.3,"v":7.85},{"a":"B","o":3,"i":107.2,"v":8.18},{"a":"B","o":4,"i":107.2,"v":7.69},{"a":"B","o":5,"i":105.6,"v":7.75},{"a":"B","o":6,"i":94.4,"v":4.23},
{"a":"C","o":0,"i":224.4,"v":2.89},{"a":"C","o":1,"i":233.9,"v":9.95},{"a":"C","o":2,"i":232.8,"v":10.05},{"a":"C","o":3,"i":236,"v":10.51},{"a":"C","o":4,"i":237.2,"v":10.05},{"a":"C","o":5,"i":236.4,"v":9.95},{"a":"C","o":6,"i":224.4,"v":2.89}
]},
"layer":[
{"data":{"values":[{"name":"slide"}]},"mark":{"type":"rect","fill":"#ffffff","stroke":"#c9c9c9","strokeWidth":1.5},"encoding":{"x":{"datum":-46.9,"type":"quantitative","scale":{"domain":[-48.889,347.5],"nice":false,"zero":false},"axis":null},"x2":{"datum":345.6},"y":{"datum":20.665,"type":"quantitative","scale":{"domain":[-5.657,20.896],"nice":false,"zero":false},"axis":null},"y2":{"datum":-5.394}}},
{"data":{"values":[{"i":188.9,"v":14,"t":"Datayes!"},{"i":123.3,"v":9.66,"t":"001B98D0"},{"i":-5.3,"v":0.92,"t":"Datayes!"},{"i":250.8,"v":1.24,"t":"Datayes!"}]},"mark":{"type":"text","font":"DejaVu Sans","fontSize":28,"angle":-28,"color":"#d0d0d0","align":"center","baseline":"middle"},"encoding":{"x":{"field":"i","type":"quantitative","scale":{"domain":[-48.889,347.5],"nice":false,"zero":false},"axis":null},"y":{"field":"v","type":"quantitative","scale":{"domain":[-5.657,20.896],"nice":false,"zero":false},"axis":null},"text":{"field":"t"}}},
{"data":{"values":[{"x0":-32,"x1":284.4,"y0":1.08,"y1":-0.6},{"x0":-32,"x1":0.5,"y0":2.49,"y1":1.08}]},"mark":{"type":"rect","fill":"#ffffff"},"encoding":{"x":{"field":"x0","type":"quantitative","scale":{"domain":[-48.889,347.5],"nice":false,"zero":false},"axis":null},"x2":{"field":"x1"},"y":{"field":"y0","type":"quantitative","scale":{"domain":[-5.657,20.896],"nice":false,"zero":false},"axis":null},"y2":{"field":"y1"}}},
{"data":{"values":[{"i":74.2,"v":13.24,"t":"Datayes!"},{"i":229.7,"v":13.67,"t":"Datayes!"},{"i":267.8,"v":5.84,"t":"Datayes!"},{"i":-6.7,"v":-2.5,"t":"Datayes!"},{"i":149.7,"v":-2.27,"t":"Datayes!"},{"i":306.1,"v":-1.94,"t":"Datayes!"},{"i":-42.8,"v":5.45,"t":"Datayes!"},{"i":35.3,"v":20.96,"t":"Datayes!"},{"i":192.2,"v":21.26,"t":"Datayes!"},{"i":151.9,"v":18.6,"t":"001B98D0"},{"i":309.4,"v":18.83,"t":"001B98D0"},{"i":33.6,"v":10.61,"t":"001B98D0"},{"i":190,"v":10.94,"t":"001B98D0"},{"i":71.9,"v":2.79,"t":"001B98D0"},{"i":346.4,"v":11.1,"t":"001B98D0"},{"i":-46.4,"v":-5.07,"t":"001B98D0"},{"i":110,"v":-4.8,"t":"001B98D0"},{"i":266.4,"v":-4.64,"t":"001B98D0"},{"i":-11.4,"v":18.37,"t":"001B98D0"},{"i":224.7,"v":3.15,"t":"001B98D0"}]},"mark":{"type":"text","font":"DejaVu Sans","fontSize":17,"angle":-28,"color":"#d9d9d9","align":"center","baseline":"middle"},"encoding":{"x":{"field":"i","type":"quantitative","scale":{"domain":[-48.889,347.5],"nice":false,"zero":false},"axis":null},"y":{"field":"v","type":"quantitative","scale":{"domain":[-5.657,20.896],"nice":false,"zero":false},"axis":null},"text":{"field":"t"}}},
{"data":{"name":"levels"},"mark":{"type":"rule","stroke":"#efefef","strokeWidth":2},"encoding":{"x":{"datum":-0.6,"type":"quantitative","scale":{"domain":[-48.889,347.5],"nice":false,"zero":false},"axis":null},"x2":{"datum":284.1},"y":{"field":"price","type":"quantitative","scale":{"domain":[-5.657,20.896],"nice":false,"zero":false},"axis":null}}},
{"data":{"name":"levels"},"mark":{"type":"text","font":"Noto Sans","fontSize":17,"color":"#8a8a8a","align":"left","baseline":"middle","dy":-1},"encoding":{"x":{"datum":286.4,"type":"quantitative","scale":{"domain":[-48.889,347.5],"nice":false,"zero":false},"axis":null},"y":{"field":"price","type":"quantitative","scale":{"domain":[-5.657,20.896],"nice":false,"zero":false},"axis":null},"text":{"field":"price","type":"quantitative","format":".2f"}}},
{"data":{"name":"candles"},"mark":{"type":"rule","strokeWidth":2.2},"encoding":{"x":{"field":"i","type":"quantitative","scale":{"domain":[-48.889,347.5],"nice":false,"zero":false},"axis":null},"y":{"field":"hi","type":"quantitative","scale":{"domain":[-5.657,20.896],"nice":false,"zero":false},"axis":null},"y2":{"field":"lo"},"color":{"field":"dir","type":"nominal","scale":{"domain":["up","down"],"range":["#f0426a","#1dab63"]},"legend":null}}},
{"data":{"name":"ma"},"mark":{"type":"line","interpolate":"monotone","strokeWidth":1.9},"encoding":{"x":{"field":"i","type":"quantitative","scale":{"domain":[-48.889,347.5],"nice":false,"zero":false},"axis":null},"y":{"field":"v","type":"quantitative","scale":{"domain":[-5.657,20.896],"nice":false,"zero":false},"axis":null},"color":{"field":"s","type":"nominal","sort":["MA120","MA30","MA20","MA10","MA5"],"scale":{"domain":["MA120","MA30","MA20","MA10","MA5"],"range":["#f0d31e","#ae7ff2","#45aff7","#f79a55","#5b8def"]},"legend":null}}},
{"data":{"name":"arrows"},"mark":{"type":"line","fill":"#ff1c10","stroke":"#ff1c10","strokeWidth":0.5},"encoding":{"x":{"field":"i","type":"quantitative","scale":{"domain":[-48.889,347.5],"nice":false,"zero":false},"axis":null},"y":{"field":"v","type":"quantitative","scale":{"domain":[-5.657,20.896],"nice":false,"zero":false},"axis":null},"detail":{"field":"a"},"order":{"field":"o","type":"quantitative"}}},
{"data":{"values":[{"x0":-30.8,"x1":-16.9,"y0":16.985,"y1":16.985},{"x0":-12.8,"x1":327.8,"y0":16.985,"y1":16.985},{"x0":-16.9,"x1":-16.9,"y0":16.985,"y1":16.62},{"x0":-16.9,"x1":-12.8,"y0":16.62,"y1":16.985}]},"mark":{"type":"rule","stroke":"#b3b3b3","strokeWidth":1},"encoding":{"x":{"field":"x0","type":"quantitative","scale":{"domain":[-48.889,347.5],"nice":false,"zero":false},"axis":null},"x2":{"field":"x1"},"y":{"field":"y0","type":"quantitative","scale":{"domain":[-5.657,20.896],"nice":false,"zero":false},"axis":null},"y2":{"field":"y1"}}},
{"data":{"values":[{"name":"bullet"}]},"mark":{"type":"rect","fill":"#f39419"},"encoding":{"x":{"datum":-4.44,"type":"quantitative","scale":{"domain":[-48.889,347.5],"nice":false,"zero":false},"axis":null},"x2":{"datum":-0.83},"y":{"datum":-0.366,"type":"quantitative","scale":{"domain":[-5.657,20.896],"nice":false,"zero":false},"axis":null},"y2":{"datum":-0.793}}},
{"data":{"values":[{"t":"衰退期的企业，也有投资价值"}]},"mark":{"type":"text","font":"Noto Sans CJK SC","fontWeight":"bold","fontSize":35.3,"color":"#0d3159","stroke":"#0d3159","strokeWidth":0.6,"align":"left","baseline":"middle"},"encoding":{"x":{"datum":-29.2,"type":"quantitative","scale":{"domain":[-48.889,347.5],"nice":false,"zero":false},"axis":null},"y":{"datum":18.07,"type":"quantitative","scale":{"domain":[-5.657,20.896],"nice":false,"zero":false},"axis":null},"text":{"field":"t"}}},
{"data":{"values":[{"t":"Data"}]},"mark":{"type":"text","font":"Lato","fontWeight":"bold","fontSize":24,"color":"#0d3159","align":"left","baseline":"middle"},"encoding":{"x":{"datum":284.2,"type":"quantitative","scale":{"domain":[-48.889,347.5],"nice":false,"zero":false},"axis":null},"y":{"datum":18.3,"type":"quantitative","scale":{"domain":[-5.657,20.896],"nice":false,"zero":false},"axis":null},"text":{"field":"t"}}},
{"data":{"values":[{"t":"yes!"}]},"mark":{"type":"text","font":"Lato","fontSize":24,"color":"#f39419","align":"left","baseline":"middle"},"encoding":{"x":{"datum":298.1,"type":"quantitative","scale":{"domain":[-48.889,347.5],"nice":false,"zero":false},"axis":null},"y":{"datum":18.3,"type":"quantitative","scale":{"domain":[-5.657,20.896],"nice":false,"zero":false},"axis":null},"text":{"field":"t"}}},
{"data":{"values":[{"t":"通联数据"}]},"mark":{"type":"text","font":"Noto Sans CJK SC","fontSize":15.5,"color":"#0d3159","align":"left","baseline":"middle"},"encoding":{"x":{"datum":310.3,"type":"quantitative","scale":{"domain":[-48.889,347.5],"nice":false,"zero":false},"axis":null},"y":{"datum":18.3,"type":"quantitative","scale":{"domain":[-5.657,20.896],"nice":false,"zero":false},"axis":null},"text":{"field":"t"}}},
{"data":{"values":[{"t":"陕西黑猫"}]},"mark":{"type":"text","font":"Noto Sans CJK SC","fontSize":51,"color":"#ff1f1f","align":"left","baseline":"middle"},"encoding":{"x":{"datum":84.4,"type":"quantitative","scale":{"domain":[-48.889,347.5],"nice":false,"zero":false},"axis":null},"y":{"datum":12.58,"type":"quantitative","scale":{"domain":[-5.657,20.896],"nice":false,"zero":false},"axis":null},"text":{"field":"t"}}},
{"data":{"values":[{"t":"陕西黑猫2020年9月至2021年3月，半年时间累计涨幅为192%。"}]},"mark":{"type":"text","font":"Noto Sans CJK SC","fontSize":27.6,"color":"#595959","align":"left","baseline":"middle"},"encoding":{"x":{"datum":2.5,"type":"quantitative","scale":{"domain":[-48.889,347.5],"nice":false,"zero":false},"axis":null},"y":{"datum":-0.58,"type":"quantitative","scale":{"domain":[-5.657,20.896],"nice":false,"zero":false},"axis":null},"text":{"field":"t"}}},
{"data":{"values":[{"t":"AI Empowers Investment"}]},"mark":{"type":"text","font":"Liberation Sans","fontSize":11.7,"color":"#666666","align":"left","baseline":"middle"},"encoding":{"x":{"datum":-29.4,"type":"quantitative","scale":{"domain":[-48.889,347.5],"nice":false,"zero":false},"axis":null},"y":{"datum":-4.08,"type":"quantitative","scale":{"domain":[-5.657,20.896],"nice":false,"zero":false},"axis":null},"text":{"field":"t"}}},
{"data":{"values":[{"t":"Copyright © 2020 DataYes. All Rights Reserved"}]},"mark":{"type":"text","font":"Liberation Sans","fontSize":11.8,"color":"#666666","align":"right","baseline":"middle"},"encoding":{"x":{"datum":326.9,"type":"quantitative","scale":{"domain":[-48.889,347.5],"nice":false,"zero":false},"axis":null},"y":{"datum":-4.05,"type":"quantitative","scale":{"domain":[-5.657,20.896],"nice":false,"zero":false},"axis":null},"text":{"field":"t"}}}
]}
